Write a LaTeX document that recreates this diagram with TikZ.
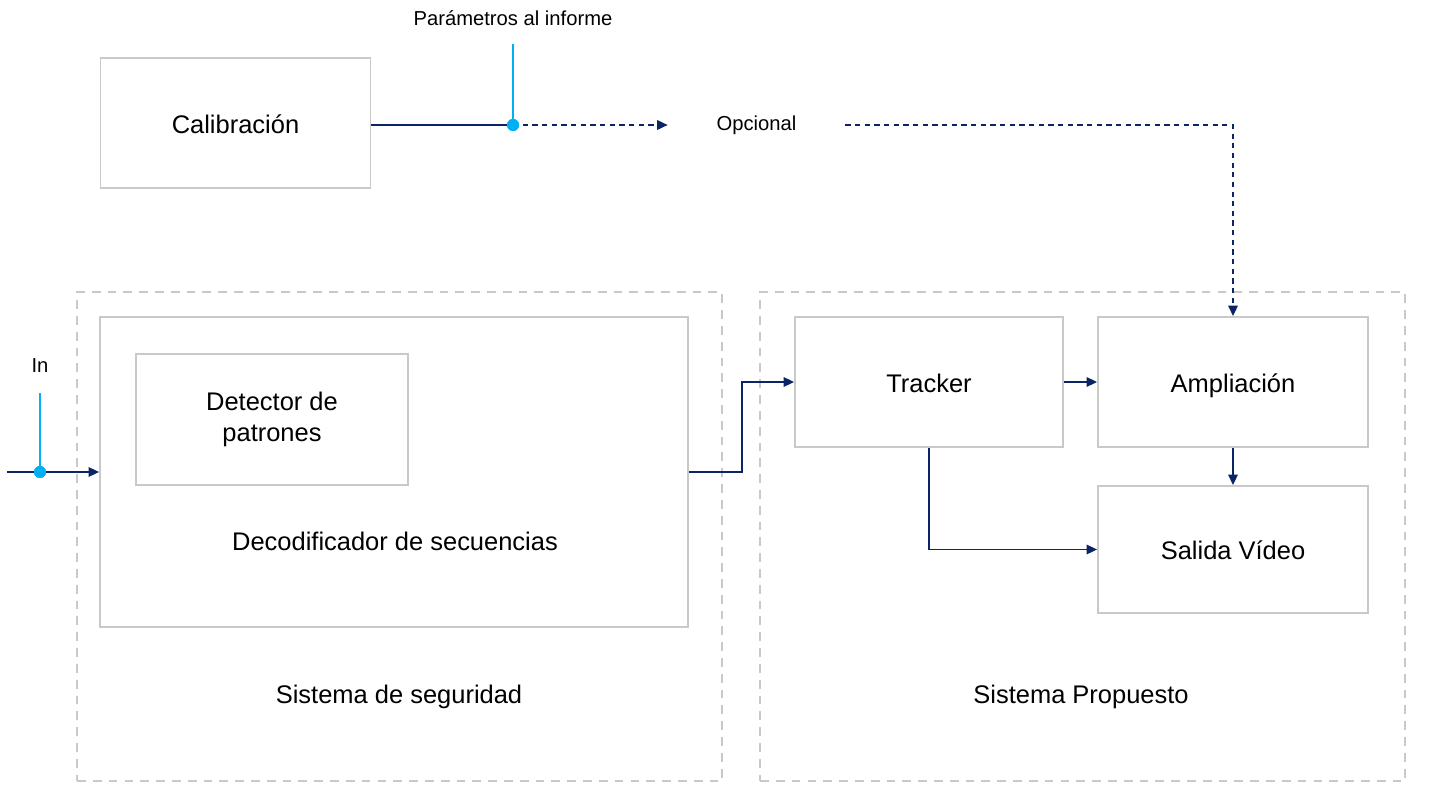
\documentclass[tikz,border=0pt]{standalone}
\usepackage{fontspec}
\setmainfont{Liberation Sans}
\usetikzlibrary{positioning, arrows.meta, calc}

\definecolor{boxgray}{HTML}{C9C9C9}
\definecolor{navy}{HTML}{0A2566}
\definecolor{lightblue}{HTML}{00B0F0}

\begin{document}
\begin{tikzpicture}[
  x=0.02cm, y=-0.02cm,
  every node/.style={font=\fontsize{14.5}{18}\selectfont},
  block/.style={draw=boxgray, line width=1.1pt, rectangle, minimum width=5.4cm, minimum height=2.6cm, align=center, text height=1.15em, text depth=0pt},
  group/.style={draw=boxgray, line width=1.1pt, dash pattern=on 5pt off 4pt, rectangle, minimum width=12.9cm, minimum height=9.78cm},
  small/.style={font=\fontsize{11.5}{14}\selectfont},
  arrow/.style={navy, line width=0.8pt, -{Triangle[length=6pt, width=5.5pt]}},
  dasharrow/.style={arrow, dash pattern=on 3pt off 2.5pt},
  tap/.style={lightblue, line width=0.8pt},
  dot/.style={circle, fill=lightblue, inner sep=0pt, minimum size=0.24cm}
]
\useasboundingbox (0,0) rectangle (1432,807);

% Groups
\node[group] (segur) at (399.5,536.5) {};
\node[group] (prop) at (1082.5,536.5) {};
\node at (399,697) {Sistema de seguridad};
\node at (1081,697) {Sistema Propuesto};

% Calibration
\node[block] (calib) at (235.5,123) {Calibración};
\node[small] (param) at (513,18) {Parámetros al informe};
\node[small, minimum width=3.54cm] (opc) at (756.5,125) {Opcional};
\node[dot] (pdot) at (513,125) {};
\coordinate (ptop) at (513,44);

% Decoder
\node[block, minimum width=11.76cm, minimum height=6.2cm] (dec) at (394,472) {};
\node at (395,541) {Decodificador de secuencias};
\node[block, minimum width=5.44cm, minimum height=2.62cm, text height=, text depth=] (det) at (272,419.5) {Detector de\\patrones};

% Input
\node[small] (in) at (40,366) {In};
\node[dot] (indot) at (40,472) {};
\coordinate (instart) at (7,472);
\coordinate (intop) at (40,393);

% Proposed system
\node[block, minimum width=5.36cm] (tracker) at (929,382) {Tracker};
\node[block] (ampl) at (1233,382) {Ampliación};
\node[block, minimum height=2.54cm] (salida) at (1233,549.5) {Salida Vídeo};

% Arrows
\draw[navy, line width=0.8pt] (calib.east |- pdot) -- (pdot.center);
\draw[tap] (pdot.center) -- (ptop);
\draw[dasharrow] (pdot.center) -- (opc.west);
\draw[dasharrow] (opc.east) -| (ampl.north);
\draw[arrow] (instart) -- (dec.west);
\draw[tap] (indot.center) -- (intop);
\node[dot] at (indot) {};
\node[dot] at (pdot) {};
\draw[arrow] (dec.east) -- ++(53,0) |- (tracker.west);
\draw[arrow] (tracker) -- (ampl);
\draw[arrow] (ampl) -- (salida);
\draw[arrow] (tracker.south) |- (salida.west);

\end{tikzpicture}
\end{document}
